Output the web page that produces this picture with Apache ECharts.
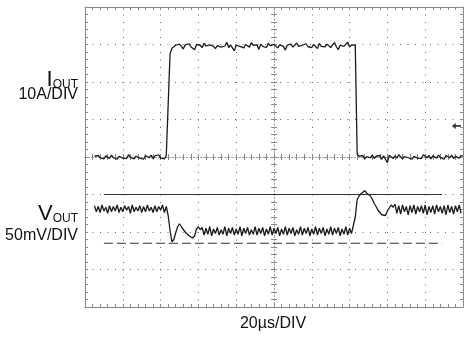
<!DOCTYPE html>
<html>
<head>
<meta charset="utf-8">
<script src="https://cdn.jsdelivr.net/npm/echarts@6/dist/echarts.min.js"></script>
<style>
  html, body { margin: 0; padding: 0; background: #fff; }
  #chart { width: 466px; height: 337px; }
</style>
</head>
<body>
<div id="chart"></div>
<script>
// sampling of both traces: microseconds, one point per us
const T0 = 5
const DT = 1

// load current, A (10A/DIV)
const iOut = [
  0.2, -0.3, 0.4, -0.2, 0.1, -0.5, 0.3, 0, -0.4, 0.5,
  -0.2, 0.3, -0.6, 0.2, 0.4, -0.3, 0.1, -0.4, 0.6, -0.1,
  0.3, -0.5, 0.2, 0.7, -0.3, 0.1, -0.6, 0.4, 0.2, -0.2,
  0.5, -0.4, 0.3, -0.1, 0.6, -0.3, 0.2, -0.5, 0.4, 0.1,
  27.5, 29.0, 29.4, 29.8, 29.3, 30.1, 29.5, 28.8, 29.9, 29.6,
  30.2, 29.4, 29.7, 28.6, 30.0, 29.5, 29.8, 29.2, 30.3, 29.6,
  29.1, 29.9, 30.4, 29.5, 28.9, 29.7, 30.1, 29.3, 29.8, 29.6,
  30.6, 29.2, 29.9, 29.4, 28.3, 29.8, 30.2, 29.5, 29.7, 29.1,
  30.0, 29.6, 29.3, 30.5, 29.8, 29.4, 29.9, 28.7, 30.1, 29.5,
  29.8, 29.2, 30.3, 29.7, 29.4, 30.0, 29.6, 29.1, 29.9, 30.2,
  29.5, 28.5, 29.8, 29.6, 30.1, 29.3, 29.7, 30.4, 29.5, 29.0,
  29.8, 29.6, 30.2, 29.4, 29.9, 29.2, 30.0, 29.7, 28.9, 30.3,
  29.5, 29.8, 29.4, 30.1, 29.6, 29.2, 29.9, 30.5, 29.4, 28.6,
  29.8, 30.0, 29.5, 29.7, 30.6, 29.3, 29.9, 30.4, 29.8,
  0.8, 0.2, -0.3, 0.4, -0.5, 0.1, 0.3, -0.2, 0.5, -0.4,
  0.2, -0.1, 0.4, -0.6, 0.3, 0.1, -1.5, 0.5, 0.1, -0.4,
  0.3, -0.3, 0.6, 0.2, -0.5, 0.1, 0.4, -0.2, 0.3, -0.6,
  0.2, 0.5, -0.3, 0.1, -0.4, 0.6, 0.2, -0.2, 0.4, -0.5,
  0.3, 0.1, -0.3, 0.5, -0.1, 0.2, -0.6, 0.4, 0.3, -0.2,
  0.5, -0.4, 0.2, 0.1, -0.3, 0.4, 0.2,
]

// output voltage, mV from screen centre (50mV/DIV)
const vOut = [
  -65, -73, -66, -74, -64, -72, -67, -75, -65, -73,
  -66, -72, -64, -74, -67, -73, -65, -71, -66, -75,
  -64, -73, -67, -72, -65, -74, -66, -73, -64, -72,
  -67, -74, -65, -73, -66, -71, -64, -74, -66,
  -78, -98, -113, -110, -101, -93, -89, -93, -94, -100,
  -99, -105, -103, -108, -105, -96, -93, -97,
  -94, -104, -95, -103, -93, -105, -96, -102, -94, -104,
  -97, -103, -93, -105, -95, -102, -94, -104, -96, -103,
  -93, -105, -95, -102, -94, -104, -97, -103, -93, -104,
  -95, -102, -94, -105, -96, -103, -93, -104, -95, -102,
  -94, -105, -96, -103, -93, -104, -95, -102, -94, -105,
  -97, -103, -93, -104, -95, -102, -94, -105, -96, -103,
  -93, -104, -95, -102, -94, -105, -96, -103, -93, -104,
  -95, -102, -94, -105, -96, -103, -93, -104, -95, -102,
  -100, -80, -57, -52, -49, -47, -45, -48, -47, -52,
  -56, -62, -66, -71, -73, -77, -76, -78, -72, -68,
  -64, -67, -63,
  -75, -65, -76, -64, -73, -66, -77, -65, -74, -64,
  -76, -66, -73, -65, -75, -64, -77, -66, -74, -65,
  -76, -64, -73, -66, -75, -65, -77, -64, -74, -66,
  -76, -65, -73, -64, -75,
]

// reference levels drawn across the V trace, mV
const limitSpan = [10, 189]
const upperLimit = -50
const lowerLimit = -115

// trigger level marker on the right edge
const markerAt = [196.5, 8.3]

const ink = '#1c1c1c'
const gridDots = '#6a6a6a'
const frame = '#8a8a8a'
const font = '"Liberation Sans", Arial, sans-serif'

const toPairs = (arr) => arr.map((v, i) => [T0 + i * DT, v])
const limitLine = (level) => limitSpan.map((t) => [t, level])

const borderX = (position, split) => ({
  type: 'value',
  min: 0,
  max: 200,
  interval: 20,
  position,
  axisLine: { show: true, onZero: false, lineStyle: { color: frame, width: 1 } },
  axisTick: { show: true, inside: true, length: 3, lineStyle: { color: frame } },
  minorTick: { show: true, splitNumber: 5, length: 3, lineStyle: { color: frame } },
  axisLabel: { show: false },
  splitLine: { show: split, lineStyle: { color: gridDots, type: [1, 6.5] } },
})

const centreX = (inside) => ({
  type: 'value',
  min: 0,
  max: 200,
  interval: 20,
  position: 'bottom',
  axisLine: { show: true, onZero: true, onZeroAxisIndex: 0, lineStyle: { color: '#9a9a9a', type: [1, 2.5] } },
  axisTick: { show: true, inside, length: 3, lineStyle: { color: '#888' } },
  minorTick: { show: true, splitNumber: 5, length: 3, lineStyle: { color: '#888' } },
  axisLabel: { show: false },
  splitLine: { show: false },
})

const borderY = (position, min, max, interval, split) => ({
  type: 'value',
  min,
  max,
  interval,
  position,
  axisLine: { show: true, onZero: false, lineStyle: { color: frame, width: 1 } },
  axisTick: { show: true, inside: true, length: 3, lineStyle: { color: frame } },
  minorTick: { show: true, splitNumber: 5, length: 3, lineStyle: { color: frame } },
  axisLabel: { show: false },
  splitLine: { show: split, lineStyle: { color: gridDots, type: [1, 6.5] } },
})

const centreY = (inside) => ({
  type: 'value',
  min: -40,
  max: 40,
  interval: 10,
  position: 'left',
  axisLine: { show: true, onZero: true, onZeroAxisIndex: 4, lineStyle: { color: '#9a9a9a', type: [1, 2.5] } },
  axisTick: { show: true, inside, length: 3, lineStyle: { color: '#888' } },
  minorTick: { show: true, splitNumber: 5, length: 3, lineStyle: { color: '#888' } },
  axisLabel: { show: false },
  splitLine: { show: false },
})

const chart = echarts.init(document.getElementById('chart'))

chart.setOption({
  animation: false,
  backgroundColor: '#fff',
  grid: { left: 85, top: 7, right: 3, bottom: 30, containLabel: false },
  xAxis: [
    borderX('bottom', true),
    borderX('top', false),
    centreX(true),
    centreX(false),
    // only used so the centre vertical line can sit on its zero
    { type: 'value', min: -100, max: 100, show: false },
  ],
  yAxis: [
    borderY('left', -40, 40, 10, true),
    borderY('right', -200, 200, 50, false),
    centreY(true),
    centreY(false),
  ],
  series: [
    {
      name: 'IOUT',
      type: 'line',
      xAxisIndex: 0,
      yAxisIndex: 0,
      data: toPairs(iOut),
      symbol: 'none',
      lineStyle: { color: ink, width: 1.3 },
      markPoint: {
        silent: true,
        symbol: 'path://M0,5 L6,0 L6,3.5 L14,3.5 L14,6.5 L6,6.5 L6,10 Z',
        symbolSize: [9, 6],
        itemStyle: { color: '#333' },
        label: { show: false },
        data: [{ coord: markerAt }],
      },
    },
    {
      name: 'VOUT',
      type: 'line',
      xAxisIndex: 0,
      yAxisIndex: 1,
      data: toPairs(vOut),
      symbol: 'none',
      lineStyle: { color: ink, width: 1.3 },
    },
    {
      name: 'upper',
      type: 'line',
      xAxisIndex: 0,
      yAxisIndex: 1,
      data: limitLine(upperLimit),
      symbol: 'none',
      lineStyle: { color: '#333', width: 1 },
    },
    {
      name: 'lower',
      type: 'line',
      xAxisIndex: 0,
      yAxisIndex: 1,
      data: limitLine(lowerLimit),
      symbol: 'none',
      lineStyle: { color: '#333', width: 1, type: [9, 4] },
    },
  ],
  graphic: [
    {
      type: 'text',
      right: 466 - 78,
      top: 69,
      style: {
        text: '{m|I}{s|OUT}',
        rich: {
          m: { fontSize: 22, fontFamily: font, fill: '#111', verticalAlign: 'bottom', lineHeight: 21 },
          s: { fontSize: 12, fontFamily: font, fill: '#111', verticalAlign: 'bottom', lineHeight: 21 },
        },
      },
    },
    {
      type: 'text',
      right: 466 - 78,
      top: 87,
      style: { text: '10A/DIV', fontSize: 16, fontFamily: font, fill: '#111' },
    },
    {
      type: 'text',
      right: 466 - 78,
      top: 203,
      style: {
        text: '{m|V}{s|OUT}',
        rich: {
          m: { fontSize: 22, fontFamily: font, fill: '#111', verticalAlign: 'bottom', lineHeight: 21 },
          s: { fontSize: 12, fontFamily: font, fill: '#111', verticalAlign: 'bottom', lineHeight: 21 },
        },
      },
    },
    {
      type: 'text',
      right: 466 - 78,
      top: 228,
      style: { text: '50mV/DIV', fontSize: 16, fontFamily: font, fill: '#111' },
    },
    {
      type: 'text',
      x: 273,
      y: 316,
      style: { text: '20\u00b5s/DIV', fontSize: 16, fontFamily: font, fill: '#111', textAlign: 'center' },
    },
  ],
})
</script>
</body>
</html>
